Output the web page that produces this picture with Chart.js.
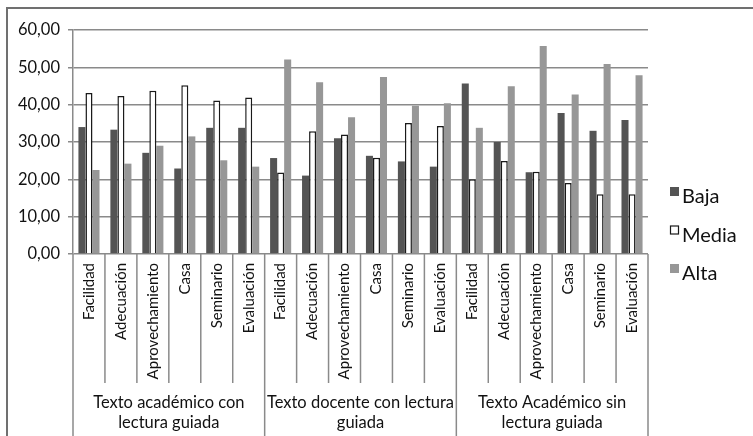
<!DOCTYPE html>
<html>
<head>
<meta charset="utf-8">
<script src="https://cdn.jsdelivr.net/npm/chart.js@4"></script>
<style>
  html, body { margin: 0; padding: 0; background: #fff; }
  .chart-box { position: relative; width: 753px; height: 436px; }
</style>
</head>
<body>
<div class="chart-box">
    <canvas id="barChart"></canvas>
</div>
<script>
// aspectos evaluados, se repiten en cada grupo
const aspects = ['Facilidad', 'Adecuación', 'Aprovechamiento', 'Casa', 'Seminario', 'Evaluación'];
const groups = [
    ['Texto académico con', 'lectura guiada'],
    ['Texto docente con lectura', 'guiada'],
    ['Texto Académico sin', 'lectura guiada']
];
const seriesNames = ['Baja', 'Media', 'Alta'];

const baja = [34.0, 33.3, 27.1, 22.9, 33.8, 33.8, 25.7, 21.0, 31.0, 26.3, 24.8, 23.4, 45.7, 30.0, 21.9, 37.8, 33.0, 35.9];
const media = [43.1, 42.3, 43.7, 45.2, 41.1, 41.9, 21.8, 32.9, 32.0, 25.8, 35.1, 34.3, 20.0, 24.9, 22.0, 19.0, 16.0, 16.0];
const alta = [22.5, 24.2, 29.0, 31.5, 25.1, 23.4, 52.1, 46.0, 36.6, 47.4, 39.7, 40.4, 33.8, 44.9, 55.7, 42.7, 50.9, 47.9];

const yTicks = [0, 10, 20, 30, 40, 50, 60];

const labels = groups.flatMap(() => aspects);
const FONT = 'Lato, "Open Sans", sans-serif';
const TEXT = '#111111';

// etiquetas de categoria, separadores, grupos, leyenda y marco
const decorPlugin = {
    id: 'decor',
    afterDraw(chart) {
        const ctx = chart.ctx;
        const xs = chart.scales.x;
        const area = chart.chartArea;
        const n = labels.length;
        const w = (xs.right - xs.left) / n;

        ctx.save();
        // marco exterior
        ctx.strokeStyle = '#707070';
        ctx.lineWidth = 2;
        ctx.strokeRect(7, 8, 800, 500);

        // separadores debajo del eje
        ctx.strokeStyle = '#8a8a8a';
        ctx.lineWidth = 1.5;
        for (let i = 0; i <= n; i++) {
            const x = xs.left + i * w;
            const isGroup = i % aspects.length === 0;
            ctx.beginPath();
            ctx.moveTo(x, area.bottom);
            ctx.lineTo(x, isGroup ? 436 : 383);
            ctx.stroke();
        }

        // etiquetas giradas
        ctx.fillStyle = TEXT;
        ctx.font = '15px ' + FONT;
        labels.forEach((label, i) => {
            const cx = xs.getPixelForValue(i);
            ctx.save();
            ctx.translate(cx, area.bottom + 9);
            ctx.rotate(-Math.PI / 2);
            ctx.textAlign = 'right';
            ctx.textBaseline = 'middle';
            ctx.fillText(label, 0, 0);
            ctx.restore();
        });

        // nombres de grupo
        ctx.font = '16.5px ' + FONT;
        ctx.textAlign = 'center';
        ctx.textBaseline = 'middle';
        groups.forEach((lines, g) => {
            const cx = xs.left + (g + 0.5) * aspects.length * w;
            lines.forEach((line, k) => {
                ctx.fillText(line, cx, 403 + k * 20);
            });
        });

        // leyenda
        ctx.font = '20px ' + FONT;
        ctx.textAlign = 'left';
        ctx.textBaseline = 'alphabetic';
        chart.data.datasets.forEach((ds, i) => {
            const y = 203 + i * 38.5;
            ctx.fillStyle = ds.backgroundColor;
            ctx.fillRect(670, y - 16, 9, 9);
            if (ds.borderWidth) {
                ctx.strokeStyle = ds.borderColor;
                ctx.lineWidth = 1.2;
                ctx.strokeRect(670.5, y - 15.5, 8, 8);
            }
            ctx.fillStyle = TEXT;
            ctx.fillText(ds.label, 682, y);
        });
        ctx.restore();
    }
};

const ctx = document.getElementById('barChart').getContext('2d');
new Chart(ctx, {
    type: 'bar',
    data: {
        labels: labels,
        datasets: [{
            label: seriesNames[0],
            data: baja,
            backgroundColor: '#545454',
            borderWidth: 0
        }, {
            label: seriesNames[1],
            data: media,
            backgroundColor: '#ffffff',
            borderColor: '#1a1a1a',
            borderWidth: 1.5
        }, {
            label: seriesNames[2],
            data: alta,
            backgroundColor: '#979797',
            borderWidth: 0
        }]
    },
    options: {
        responsive: true,
        maintainAspectRatio: false,
        animation: false,
        categoryPercentage: 0.66,
        barPercentage: 1.0,
        layout: {
            padding: { left: 7, top: 30, right: 105, bottom: 182 }
        },
        plugins: {
            legend: { display: false },
            tooltip: { enabled: false }
        },
        scales: {
            x: { display: false },
            y: {
                min: 0,
                max: 60,
                afterFit: (scale) => { scale.width = 66; },
                afterBuildTicks: (scale) => { scale.ticks = yTicks.map(v => ({ value: v })); },
                ticks: {
                    padding: 8,
                    color: TEXT,
                    font: { family: FONT, size: 16.5 },
                    callback: (value) => value.toFixed(2).replace('.', ',')
                },
                grid: {
                    color: '#8a8a8a',
                    lineWidth: 1.5,
                    tickLength: 5
                },
                border: { color: '#8a8a8a', width: 1.5 }
            }
        }
    },
    plugins: [decorPlugin]
});
</script>
</body>
</html>
